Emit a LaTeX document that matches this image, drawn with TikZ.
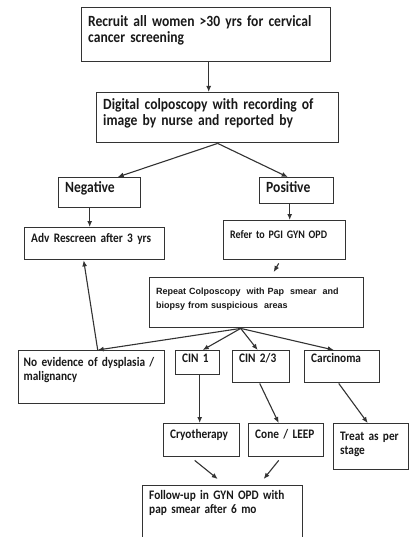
\documentclass[tikz,border=0pt]{standalone}
\usepackage{fontspec}
\setmainfont[FakeStretch=0.87, WordSpace=0.75]{Carlito}
\newfontfamily\repeatfont{Liberation Sans}
\usepackage{xcolor}
\usepackage{tikz}
\usetikzlibrary{arrows.meta}

\begin{document}
\begin{tikzpicture}[
    x=1pt, y=-1pt,
    box/.style={
        draw=black!80,
        line width=1.4pt,
        anchor=north west,
        align=left,
        inner xsep=6.5pt,
        inner ysep=0pt,
        text=black!90
    },
    bigtext/.style={
        font=\fontsize{15.6}{15.5}\selectfont\bfseries
    },
    smalltext/.style={
        font=\fontsize{13}{14}\selectfont\bfseries
    },
    repeattext/.style={
        font=\repeatfont\fontsize{9}{13.7}\selectfont\bfseries
    },
    arrow/.style={
        -{Latex[length=6pt,width=5pt]},
        line width=1.1pt,
        draw=black!80
    }
]

\useasboundingbox[fill=white] (0,0) rectangle (416,537);

\node[box, bigtext, text width=236pt, text height=19pt, text depth=35pt] (recruit) at (81,7) {
    Recruit all women >30 yrs for cervical\\
    cancer screening
};

\node[box, bigtext, text width=229pt, text height=17pt, text depth=33pt] (digital) at (96,92) {
    Digital colposcopy with recording of\\
    image by nurse and reported by
};

\node[box, bigtext, text width=69pt, text height=15pt, text depth=15pt] (negative) at (58,177) {
    Negative
};

\node[box, bigtext, text width=61pt, text height=15pt, text depth=11pt] (positive) at (259,177) {
    Positive
};

\node[box, smalltext, text width=127pt, text height=15pt, text depth=17pt] (adv) at (24,227) {
    Adv Rescreen after 3 yrs
};

\node[box, smalltext, font=\fontsize{11.5}{14}\selectfont\bfseries, text width=109pt, text height=18pt, text depth=21pt] (refer) at (223,220) {
    Refer to PGI GYN OPD
};

\node[box, repeattext, text width=201pt, text height=17pt, text depth=33pt] (repeat) at (149,277) {
    Repeat Colposcopy \ with Pap \ smear \ and\\
    biopsy from suspicious \ areas
};

\node[box, smalltext, text width=136pt, text height=16pt, text depth=37pt, inner xsep=5pt] (noevid) at (18,350) {
    No evidence of dysplasia /\\
    malignancy
};

\node[box, smalltext, text width=31pt, text height=12pt, text depth=12pt] (cin1) at (175,350) {
    CIN 1
};

\node[box, smalltext, text width=44pt, text height=12pt, text depth=20pt] (cin23) at (232,350) {
    CIN 2/3
};

\node[box, smalltext, text width=62pt, text height=12pt, text depth=20pt] (carcinoma) at (304,350) {
    Carcinoma
};

\node[box, smalltext, text width=63pt, text height=15pt, text depth=18pt] (cryo) at (163,423) {
    Cryotherapy
};

\node[box, smalltext, text width=62pt, text height=15pt, text depth=18pt] (cone) at (248,423) {
    Cone / LEEP
};

\node[box, smalltext, text width=62pt, text height=17pt, text depth=29pt] (treat) at (333,423) {
    Treat as per\\
    stage
};

\node[box, smalltext, text width=147pt, text height=14pt, text depth=66pt] (followup) at (142,485) {
    Follow-up in GYN OPD with\\
    pap smear after 6 mo
};

\coordinate (fan) at ([xshift=-16pt]repeat.south);

\draw[arrow] ([xshift=2.5pt]recruit.south) -- ([xshift=2.5pt]recruit.south |- digital.north);

\draw[arrow] (digital.south) -- ([xshift=18pt]negative.north);

\draw[arrow] (digital.south) -- ([xshift=-9pt]positive.north);

\draw[arrow] ([xshift=-10pt]negative.south) -- ([xshift=-10pt]negative.south |- adv.north);

\draw[arrow] ([xshift=-7pt]positive.south) -- ([xshift=-7pt]positive.south |- refer.north);

\draw[arrow] ([xshift=-6pt,yshift=-3pt]refer.south) -- ([xshift=17pt,yshift=5pt]repeat.north);

\draw[arrow] (fan) -- ([xshift=6pt]noevid.north);

\draw[arrow] (fan) -- ([xshift=5pt]cin1.north);

\draw[arrow] (fan) -- ([xshift=-3.5pt]cin23.north);

\draw[arrow] (fan) -- ([xshift=-8.5pt]carcinoma.north);

\draw[arrow] ([xshift=6pt]noevid.north) -- ([xshift=-11pt]adv.south);

\draw[arrow] ([xshift=2pt]cin1.south) -- ([xshift=2pt]cin1.south |- cryo.north);

\draw[arrow] ([xshift=-1.5pt]cin23.south) -- ([xshift=-7.5pt]cone.north);

\draw[arrow] ([xshift=-3.5pt]carcinoma.south) -- ([xshift=-3.5pt]treat.north);

\draw[arrow] ([xshift=-7pt,yshift=-3pt]cryo.south) -- ([xshift=-5pt,yshift=6pt]followup.north);

\draw[arrow] ([xshift=-7.5pt,yshift=-3pt]cone.south) -- ([xshift=41pt,yshift=6pt]followup.north);

\end{tikzpicture}
\end{document}
